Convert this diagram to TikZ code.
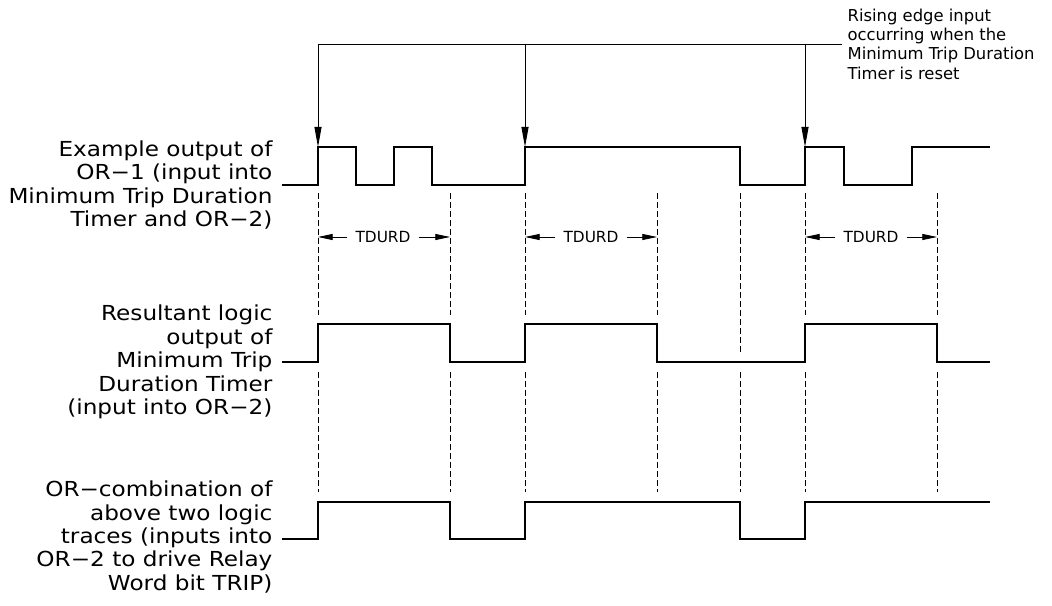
\documentclass[tikz,border=0pt]{standalone}
\usepackage{fontspec}
\setmainfont{DejaVu Sans}
\newfontfamily\widefont{DejaVu Sans}[FakeStretch=1.12]
\usetikzlibrary{arrows.meta}

\tikzset{
  trace/.style={line width=0.9pt},
  guide/.style={line width=0.6pt, dash pattern=on 4.5pt off 2.25pt},
  tdurd/.style={font=\fontsize{11.5}{13}\selectfont, inner xsep=6pt, inner ysep=1pt},
  dimarrow/.style={line width=0.6pt, -{Triangle[length=11pt,width=4.5pt]}},
  droparrow/.style={line width=0.7pt, -{Triangle[length=15pt,width=5.25pt]}},
  tracelabel/.style={anchor=east, align=right, inner xsep=7pt, inner ysep=0pt,
    font=\widefont\fontsize{15.5}{17.6}\selectfont},
  notelabel/.style={anchor=west, align=left, inner xsep=4pt, inner ysep=0pt,
    font=\fontsize{12.3}{14.5}\selectfont}
}

\begin{document}
\begin{tikzpicture}[x=0.75pt,y=-0.75pt]
\useasboundingbox (0,0) rectangle (1052,606);

\node[tracelabel] (lab1) at (282,185) {Example output of\\OR−1 (input into\\Minimum Trip Duration\\Timer and OR−2)};
\node[tracelabel] (lab2) at (282,362) {Resultant logic\\output of\\Minimum Trip\\Duration Timer\\(input into OR−2)};
\node[tracelabel] (lab3) at (282,537) {OR−combination of\\above two logic\\traces (inputs into\\OR−2 to drive Relay\\Word bit TRIP)};
\node[notelabel] (note) at (842,44) {Rising edge input\\occurring when the\\Minimum Trip Duration\\Timer is reset};

\draw[trace] (lab1.east) -- (318,185) -- (318,147) -- (356,147) -- (356,185) -- (394,185)
  -- (394,147) -- (432,147) -- (432,185) -- (525,185) -- (525,147) -- (740,147) -- (740,185)
  -- (805,185) -- (805,147) -- (844,147) -- (844,185) -- (912,185) -- (912,147) -- (990,147);
\draw[trace] (lab2.east) -- (318,362) -- (318,324) -- (450,324) -- (450,362) -- (525,362)
  -- (525,324) -- (657,324) -- (657,362) -- (805,362) -- (805,324) -- (937,324) -- (937,362)
  -- (990,362);
\draw[trace] (lab3.east |- 0,539) -- (318,539) -- (318,502) -- (450,502) -- (450,539) -- (525,539)
  -- (525,502) -- (740,502) -- (740,539) -- (805,539) -- (805,502) -- (990,502);

\draw[droparrow] (note.west) -- (318,44) -- (318,147);
\draw[droparrow] (525,44) -- (525,147);
\draw[droparrow] (805,44) -- (805,147);

\draw[guide] (318,193) -- (318,315);
\draw[guide] (450,193) -- (450,315);
\draw[guide] (525,193) -- (525,315);
\draw[guide] (657,193) -- (657,315);
\draw[guide] (740,193) -- (740,353);
\draw[guide] (805,193) -- (805,315);
\draw[guide] (937,193) -- (937,315);

\draw[guide] (318,372) -- (318,492);
\draw[guide] (450,372) -- (450,492);
\draw[guide] (525,372) -- (525,492);
\draw[guide] (657,372) -- (657,492);
\draw[guide] (740,372) -- (740,492);
\draw[guide] (805,372) -- (805,492);
\draw[guide] (937,372) -- (937,492);

\node[tdurd] (d1) at (383,237) {TDURD};
\node[tdurd] (d2) at (591,237) {TDURD};
\node[tdurd] (d3) at (871,237) {TDURD};
\draw[dimarrow] (d1) -- (318,237);
\draw[dimarrow] (d1) -- (450,237);
\draw[dimarrow] (d2) -- (525,237);
\draw[dimarrow] (d2) -- (657,237);
\draw[dimarrow] (d3) -- (805,237);
\draw[dimarrow] (d3) -- (937,237);
\end{tikzpicture}
\end{document}
